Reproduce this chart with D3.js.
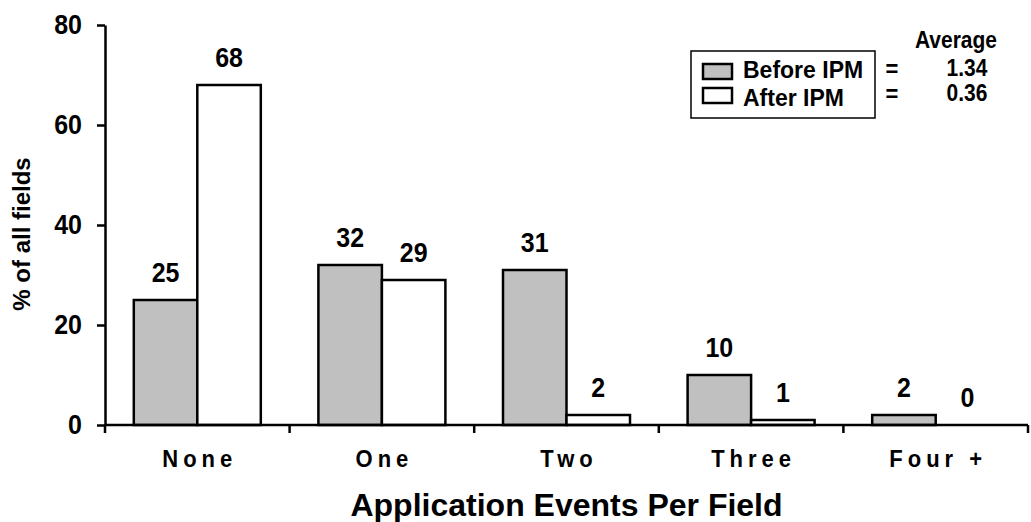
<!DOCTYPE html>
<html>
<head>
<meta charset="utf-8">
<script src="https://cdn.jsdelivr.net/npm/d3@7"></script>
<style>
  html, body { margin: 0; padding: 0; background: #fff; }
  svg { display: block; }
  text { font-family: Arial, "Liberation Sans", Helvetica, sans-serif; font-weight: bold; fill: #000; }
</style>
</head>
<body>
<svg id="chart" width="1031" height="522"></svg>
<script>
// Share of fields by number of application events, before and after IPM
const categories = ["None", "One", "Two", "Three", "Four +"];
const beforeIPM = [25, 32, 31, 10, 2];
const afterIPM = [68, 29, 2, 1, 0];
const seriesNames = ["Before IPM", "After IPM"];
const seriesAverages = ["1.34", "0.36"];
const yTicks = [0, 20, 40, 60, 80];

const svg = d3.select("#chart");
const plot = { left: 105, right: 1028, top: 25, bottom: 425 };
const tall = 1.12; // vertical stretch applied to the lettering

const x0 = d3.scaleBand().domain(categories).range([plot.left, plot.right]).padding(0);
const groupWidth = 127;
const x1 = d3.scaleBand().domain(seriesNames)
  .range([(x0.bandwidth() - groupWidth) / 2, (x0.bandwidth() + groupWidth) / 2]).padding(0);
const y = d3.scaleLinear().domain([0, 80]).range([plot.bottom, plot.top]);

const fills = { "Before IPM": "#c0c0c0", "After IPM": "#ffffff" };

// places a text at (x, y), optionally stretching the lettering vertically
function label(parent, x, yPos, str, size, anchor = "middle", k = tall) {
  return parent.append("text")
    .attr("transform", `translate(${x},${yPos}) scale(1,${k})`)
    .attr("text-anchor", anchor)
    .style("font-size", size + "px")
    .text(str);
}

const rows = categories.map((c, i) => ({
  category: c,
  values: [
    { series: "Before IPM", value: beforeIPM[i] },
    { series: "After IPM", value: afterIPM[i] }
  ]
}));

// bars
const groups = svg.append("g").selectAll("g").data(rows).join("g")
  .attr("transform", d => `translate(${x0(d.category)},0)`);

groups.selectAll("rect").data(d => d.values.filter(v => v.value > 0)).join("rect")
  .attr("x", d => x1(d.series))
  .attr("y", d => y(d.value))
  .attr("width", x1.bandwidth())
  .attr("height", d => y(0) - y(d.value))
  .attr("fill", d => fills[d.series])
  .attr("stroke", "#000")
  .attr("stroke-width", 2.5);

// value labels above each bar
groups.each(function (d) {
  const g = d3.select(this);
  d.values.forEach(v => {
    label(g, x1(v.series) + x1.bandwidth() / 2, y(v.value) - 18, v.value, 25);
  });
});

// y axis
const yAxis = svg.append("g")
  .attr("transform", `translate(${plot.left},0)`)
  .call(d3.axisLeft(y).tickValues(yTicks).tickSize(8).tickSizeOuter(0).tickPadding(15));
yAxis.select(".domain").attr("stroke", "#000").attr("stroke-width", 2.5);
yAxis.selectAll(".tick line").attr("stroke", "#000").attr("stroke-width", 2.5);
yAxis.selectAll(".tick text")
  .attr("transform", `scale(1,${tall})`)
  .attr("dy", "0.3em")
  .style("font-family", "Arial, 'Liberation Sans', sans-serif")
  .style("font-weight", "bold")
  .style("font-size", "25px")
  .attr("fill", "#000");

// x axis: line plus ticks at the category boundaries
const xEdges = categories.map(c => x0(c)).concat([x0.range()[1]]);
svg.append("line")
  .attr("x1", plot.left).attr("x2", plot.right)
  .attr("y1", y(0)).attr("y2", y(0))
  .attr("stroke", "#000").attr("stroke-width", 2.5);
svg.append("g").selectAll("line").data(xEdges).join("line")
  .attr("x1", d => d).attr("x2", d => d)
  .attr("y1", y(0)).attr("y2", y(0) + 8)
  .attr("stroke", "#000").attr("stroke-width", 2.5);

// category labels
const catG = svg.append("g");
categories.forEach(c => {
  label(catG, x0(c) + x0.bandwidth() / 2 + 2.5, 467, c, 22)
    .style("letter-spacing", "5px");
});

// axis titles
label(svg, (plot.left + plot.right) / 2, 516, "Application Events Per Field", 32, "middle", 1);

svg.append("text")
  .attr("transform", `translate(30,234) rotate(-90)`)
  .attr("text-anchor", "middle")
  .style("font-size", "24px")
  .text("% of all fields");

// legend
const legend = svg.append("g");
legend.append("rect")
  .attr("x", 691).attr("y", 51).attr("width", 184).attr("height", 67)
  .attr("fill", "#fff").attr("stroke", "#000").attr("stroke-width", 1.5);

seriesNames.forEach((name, i) => {
  legend.append("rect")
    .attr("x", 703).attr("y", 64 + i * 24).attr("width", 29).attr("height", 15)
    .attr("fill", fills[name]).attr("stroke", "#000").attr("stroke-width", 2.5);
  label(legend, 743, 78 + i * 28, name, 23, "start", 1);
  label(legend, 892, 77 + i * 25, "=", 22);
  label(legend, 967, 76 + i * 25, seriesAverages[i], 21);
});

label(legend, 956, 48, "Average", 21);
</script>
</body>
</html>
